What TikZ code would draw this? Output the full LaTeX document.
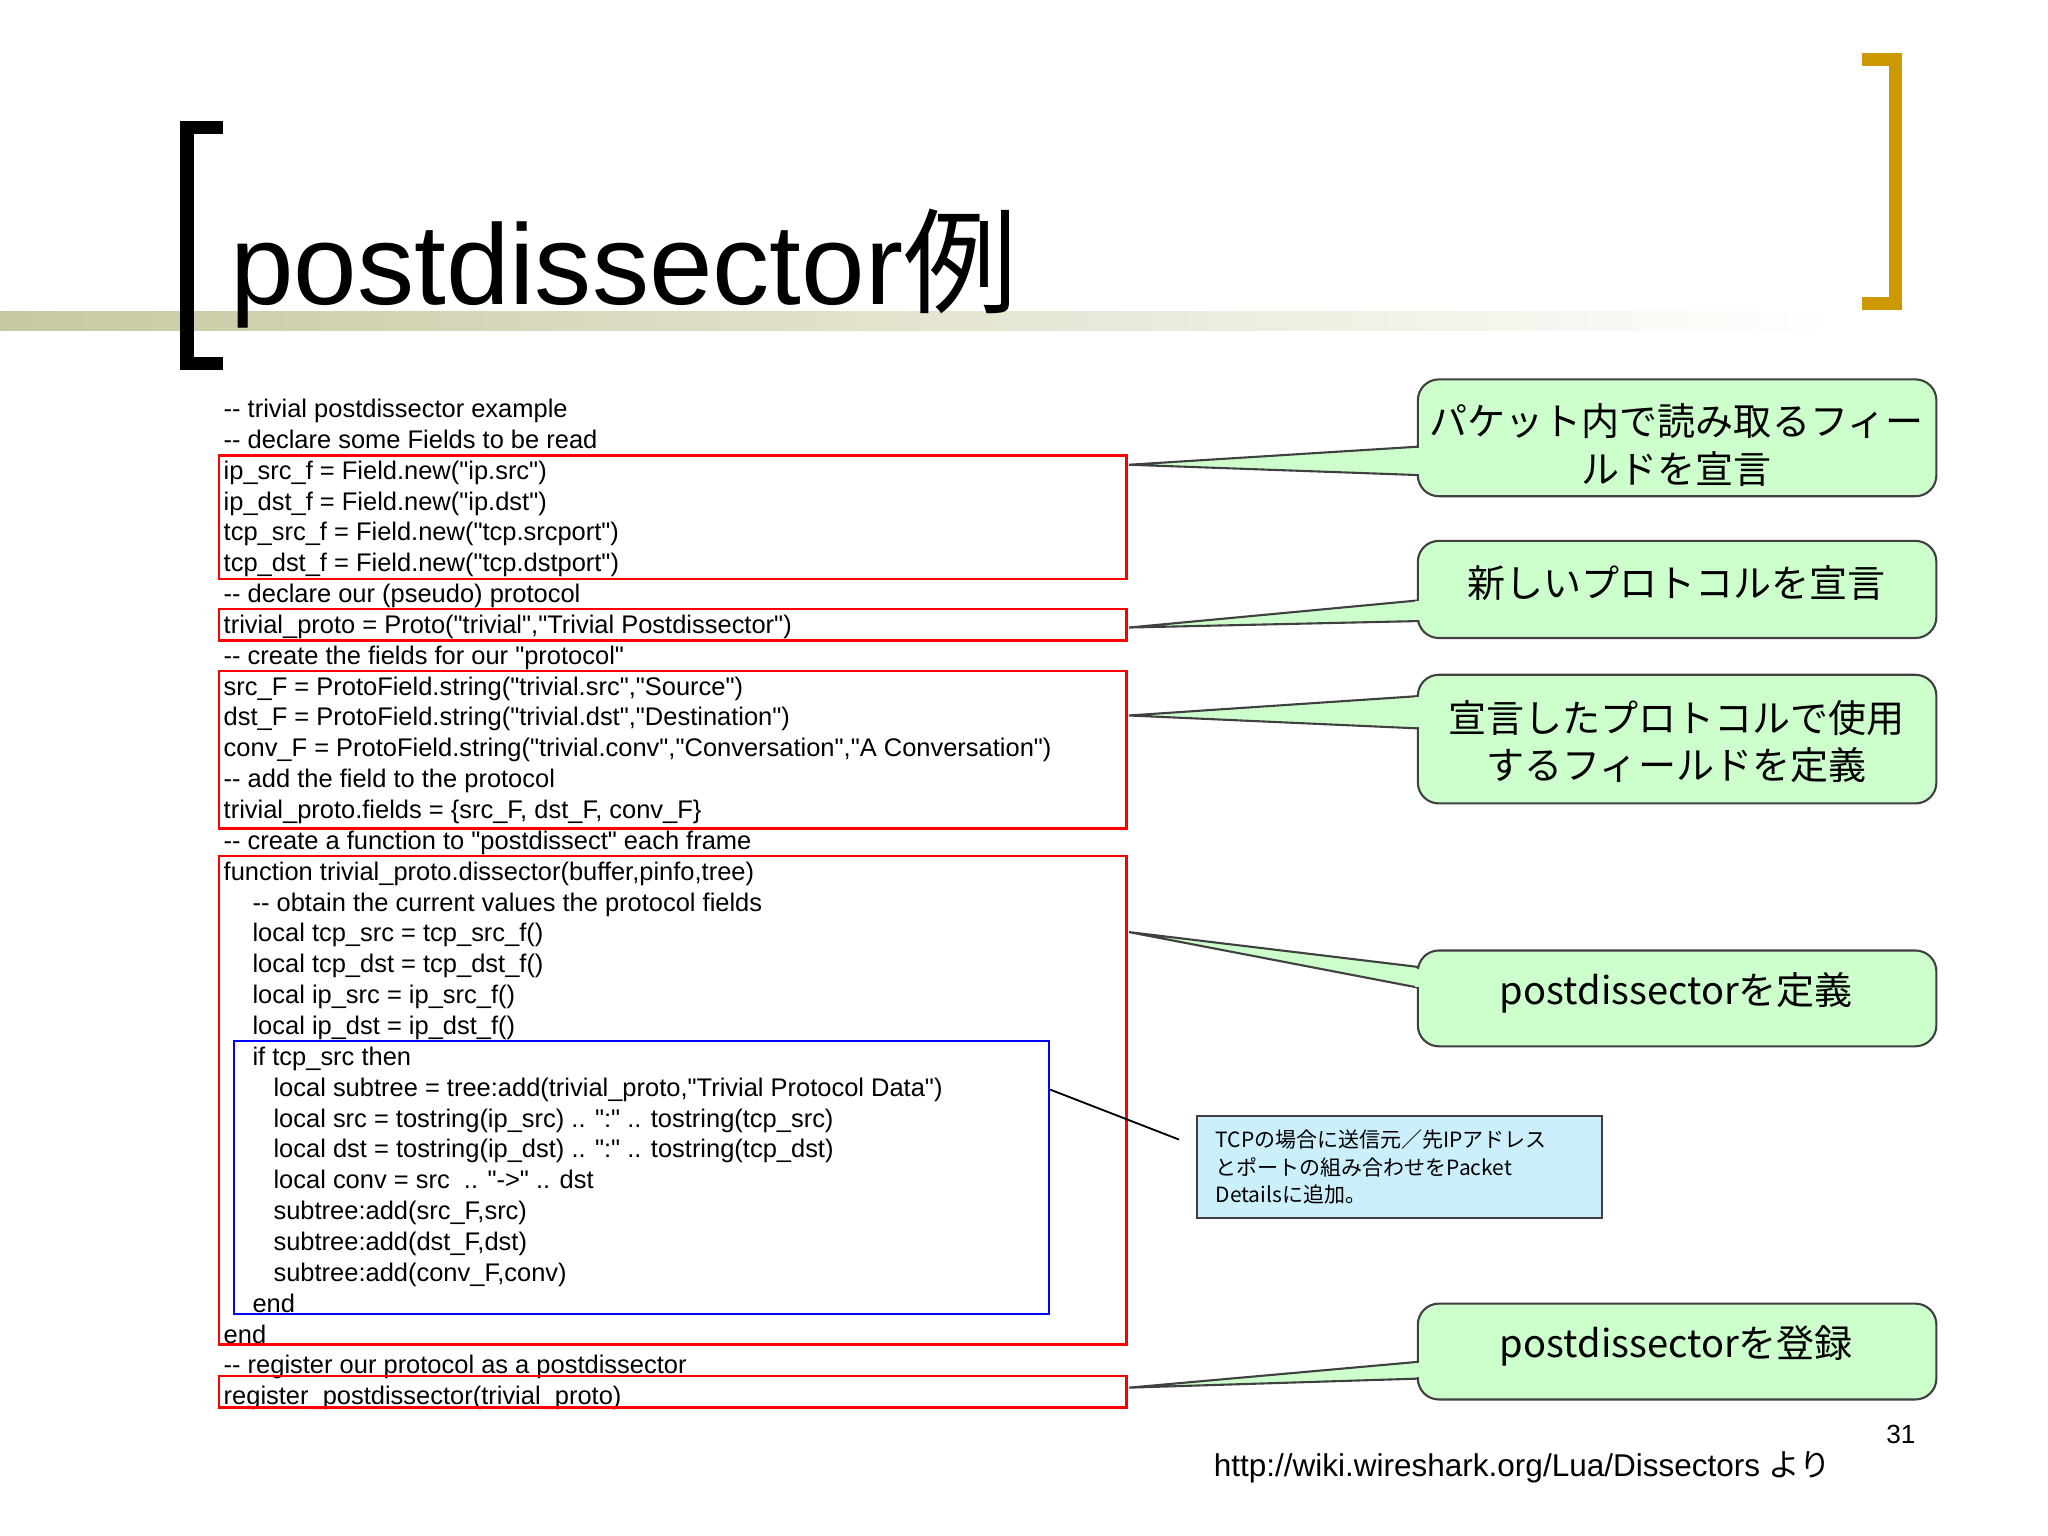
\documentclass[tikz,border=0pt]{standalone}
\usepackage{fontspec}
\setmainfont{Liberation Sans}
\newfontfamily\codefont{Liberation Sans}[Ligatures=ResetAll]
\newfontfamily\cjk{Noto Sans CJK JP}
\definecolor{barcol}{RGB}{200,200,160}
\definecolor{gold}{RGB}{204,153,0}
\begin{document}
\begin{tikzpicture}[x=0.5pt,y=-0.5pt,
  code/.style={anchor=base west,inner sep=0pt,font=\codefont\fontsize{9.7}{11}\selectfont},
  redbox/.style={draw=red,line width=0.9pt},
  callout/.style={draw=black!75,fill=green!20,rounded corners=8pt,line width=0.8pt},
  ptr/.style={draw=black!75,fill=green!20,line width=0.8pt},
  ctext/.style={font=\cjk\fontsize{14.5}{18}\selectfont,align=center}]
\useasboundingbox (0,0) rectangle (1560,1170);
\fill[white] (0,0) rectangle (1560,1170);
% gradient bar
\shade[left color=barcol,right color=white] (0,237) rectangle (1400,252);
% brackets
\fill[black] (137,92) rectangle (170,102);
\fill[black] (137,92) rectangle (148,282);
\fill[black] (137,272) rectangle (170,282);
\fill[gold] (1418,40) rectangle (1449,50);
\fill[gold] (1439,40) rectangle (1449,236);
\fill[gold] (1418,226) rectangle (1449,236);
\node[anchor=base west,inner sep=0pt,font=\fontsize{43.5}{48}\selectfont] (title) at (175,232) {postdissector{\cjk 例}};
% code
\newcommand{\cl}[3]{\node[code] (c#1) at (#2,{318+23.5*(#1-1)}) {#3};}
\cl{1}{170}{-{}- trivial postdissector example}
\cl{2}{170}{-{}- declare some Fields to be read}
\cl{3}{170}{ip\_src\_f = Field.new("ip.src")}
\cl{4}{170}{ip\_dst\_f = Field.new("ip.dst")}
\cl{5}{170}{tcp\_src\_f = Field.new("tcp.srcport")}
\cl{6}{170}{tcp\_dst\_f = Field.new("tcp.dstport")}
\cl{7}{170}{-{}- declare our (pseudo) protocol}
\cl{8}{170}{trivial\_proto = Proto("trivial","Trivial Postdissector")}
\cl{9}{170}{-{}- create the fields for our "protocol"}
\cl{10}{170}{src\_F = ProtoField.string("trivial.src","Source")}
\cl{11}{170}{dst\_F = ProtoField.string("trivial.dst","Destination")}
\cl{12}{170}{conv\_F = ProtoField.string("trivial.conv","Conversation","A Conversation")}
\cl{13}{170}{-{}- add the field to the protocol}
\cl{14}{170}{trivial\_proto.fields = \{src\_F, dst\_F, conv\_F\}}
\cl{15}{170}{-{}- create a function to "postdissect" each frame}
\cl{16}{170}{function trivial\_proto.dissector(buffer,pinfo,tree)}
\cl{17}{192}{-{}- obtain the current values the protocol fields}
\cl{18}{192}{local tcp\_src = tcp\_src\_f()}
\cl{19}{192}{local tcp\_dst = tcp\_dst\_f()}
\cl{20}{192}{local ip\_src = ip\_src\_f()}
\cl{21}{192}{local ip\_dst = ip\_dst\_f()}
\cl{22}{192}{if tcp\_src then}
\cl{23}{208}{local subtree = tree:add(trivial\_proto,"Trivial Protocol Data")}
\cl{24}{208}{local src = tostring(ip\_src) .. ":" .. tostring(tcp\_src)}
\cl{25}{208}{local dst = tostring(ip\_dst) .. ":" .. tostring(tcp\_dst)}
\cl{26}{208}{local conv = src~ .. "->" .. dst}
\cl{27}{208}{subtree:add(src\_F,src)}
\cl{28}{208}{subtree:add(dst\_F,dst)}
\cl{29}{208}{subtree:add(conv\_F,conv)}
\cl{30}{192}{end}
\cl{31}{170}{end}
\cl{32}{170}{-{}- register our protocol as a postdissector}
\cl{33}{170}{register\_postdissector(trivial\_proto)}
% boxes
\draw[redbox] (167,347) rectangle (858,441);
\draw[redbox] (167,464) rectangle (858,488);
\draw[redbox] (167,511) rectangle (858,631);
\draw[redbox] (167,652) rectangle (858,1024);
\draw[redbox] (167,1048) rectangle (858,1072);
\draw[blue,line width=0.9pt] (178,793) rectangle (799,1001);
% callouts
\coordinate (tA) at (860,354); \coordinate (tB) at (860,478); \coordinate (tC) at (860,545);
\coordinate (tD) at (860,710); \coordinate (tE) at (860,1057);
\draw[ptr] (tA) -- (1084,340) -- (1084,362) -- cycle;
\draw[ptr] (tB) -- (1084,457) -- (1084,473) -- cycle;
\draw[ptr] (tC) -- (1084,530) -- (1084,555) -- cycle;
\draw[ptr] (tD) -- (1084,737) -- (1084,753) -- cycle;
\draw[ptr] (tE) -- (1084,1037) -- (1084,1050) -- cycle;
\draw[callout] (1080,289) rectangle (1475,378);
\draw[callout] (1080,412) rectangle (1475,486);
\draw[callout] (1080,514) rectangle (1475,612);
\draw[callout] (1080,724) rectangle (1475,797);
\draw[callout] (1080,993) rectangle (1475,1066);
\fill[green!20] (1078,341) rectangle (1083,361);
\fill[green!20] (1078,458) rectangle (1083,472);
\fill[green!20] (1078,531) rectangle (1083,554);
\fill[green!20] (1078,738) rectangle (1083,752);
\fill[green!20] (1078,1038) rectangle (1083,1049);
\node[ctext] (A) at (1277,339) {パケット内で読み取るフィー\\ルドを宣言};
\node[ctext] (B) at (1277,444) {新しいプロトコルを宣言};
\node[ctext] (C) at (1277,565) {宣言したプロトコルで使用\\するフィールドを定義};
\node[ctext] (D) at (1277,756) {postdissectorを定義};
\node[ctext] (E) at (1277,1025) {postdissectorを登録};
% cyan box
\node[draw=black!75,fill=cyan!20,line width=0.8pt,minimum width=154pt,minimum height=39pt,
  text width=140pt,align=left,font=\cjk\fontsize{8}{10.5}\selectfont] (T) at (1066,889)
  {TCPの場合に送信元／先IPアドレス\\とポートの組み合わせをPacket\\Detailsに追加。};
\coordinate (bl) at (800,830);
\draw[line width=0.7pt] (bl) -- (898,868);
\node[font=\fontsize{10}{12}\selectfont] (pg) at (1448,1093) {31};
\node[anchor=east,font=\fontsize{12}{14}\selectfont] (url) at (1402,1118) {http://wiki.wireshark.org/Lua/Dissectors {\cjk より}};
\end{tikzpicture}
\end{document}
